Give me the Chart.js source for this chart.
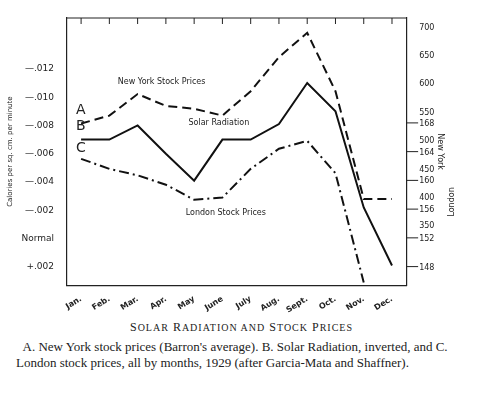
<!DOCTYPE html>
<html><head><meta charset="utf-8">
<script src="https://cdn.jsdelivr.net/npm/chart.js@4"></script>
<style>
body{margin:0;background:#fff;width:483px;height:402px;overflow:hidden}
#wrap{position:relative;width:483px;height:318px}
.cap{font-family:"Liberation Serif",serif;color:#222}
#t{text-align:center;font-size:12px;letter-spacing:1px;margin-top:2px}
#d{font-size:13px;margin:4px 14px 0 16px;line-height:16px}
</style></head><body>
<div id="wrap"><canvas id="c" width="483" height="318"></canvas></div>
<div id="t" class="cap">S<span style="font-size:10px">OLAR</span> R<span style="font-size:10px">ADIATION AND</span> S<span style="font-size:10px">TOCK</span> P<span style="font-size:10px">RICES</span></div>
<div id="d" class="cap">&nbsp;&nbsp;A. New York stock prices (Barron's average). B. Solar Radiation, inverted, and C. London stock prices, all by months, 1929 (after Garcia-Mata and Shaffner).</div>
<script>
// monthly values, 1929
const months = ['Jan.','Feb.','Mar.','Apr.','May','June','July','Aug.','Sept.','Oct.','Nov.','Dec.'];
const newYork = [531, 545, 583, 562, 557, 545, 588, 648, 691, 588, 398, 398];
const solar = [-0.0070, -0.0070, -0.0080, -0.0060, -0.0041, -0.0070, -0.0070, -0.0081, -0.0110, -0.0090, -0.0022, 0.0019];
const london = [163, 161.6, 160.7, 159.4, 157.3, 157.6, 161.6, 164.4, 165.5, 161, 145.8, null];
const calTicks = [-0.012, -0.010, -0.008, -0.006, -0.004, -0.002, 0, 0.002];
const londonTicks = [168, 164, 160, 156, 152, 148];

function calLabel(v) {
    if (v === 0) return 'Normal';
    const s = Math.abs(v).toFixed(3).replace('0.', '.');
    return (v < 0 ? '\u2014' : '+') + s;
}

// labels on the plot, top border and London tick labels
const notes = {
    id: 'notes',
    afterDraw(chart) {
        const c = chart.ctx, x = chart.scales.x, y = chart.scales.y;
        const ny = chart.scales.ny, lo = chart.scales.lo, a = chart.chartArea;
        c.save();
        c.strokeStyle = '#222';
        c.lineWidth = 1.2;
        c.beginPath(); c.moveTo(a.left, a.top); c.lineTo(a.right, a.top); c.stroke();
        c.lineWidth = 1;
        months.forEach((m, i) => {
            const px = x.getPixelForValue(i);
            c.beginPath(); c.moveTo(px, a.top); c.lineTo(px, a.top + 6); c.stroke();
        });
        c.fillStyle = '#222';
        c.font = '8px "DejaVu Sans"';
        c.fillText('New York Stock Prices', x.getPixelForValue(1.3), ny.getPixelForValue(600));
        c.fillText('Solar Radiation', x.getPixelForValue(3.8), y.getPixelForValue(-0.0080));
        c.fillText('London Stock Prices', x.getPixelForValue(3.7), lo.getPixelForValue(155.2));
        c.font = '14px "DejaVu Sans"';
        c.fillText('A', 76, ny.getPixelForValue(548));
        c.fillText('B', 76, y.getPixelForValue(-0.0077));
        c.fillText('C', 76, y.getPixelForValue(-0.0061));
        // London ticks share the right column
        c.font = '8px "DejaVu Sans"';
        londonTicks.forEach(v => {
            const py = lo.getPixelForValue(v);
            c.beginPath(); c.moveTo(a.right, py); c.lineTo(a.right + 12, py); c.stroke();
            c.fillText(v, a.right + 13, py + 3);
        });
        c.translate(a.right + 48, lo.getPixelForValue(157));
        c.rotate(-Math.PI / 2);
        c.textAlign = 'center';
        c.fillText('London', 0, 0);
        c.restore();
    }
};

new Chart(document.getElementById('c'), {
    type: 'line',
    data: {
        labels: months,
        datasets: [
            { data: newYork, yAxisID: 'ny', borderColor: '#111', borderWidth: 2, borderDash: [9, 5], pointRadius: 0, tension: 0 },
            { data: solar, yAxisID: 'y', borderColor: '#111', borderWidth: 2, pointRadius: 0, tension: 0 },
            { data: london, yAxisID: 'lo', borderColor: '#111', borderWidth: 2, borderDash: [10, 4, 2, 4], pointRadius: 0, tension: 0 }
        ]
    },
    options: {
        responsive: false,
        animation: false,
        layout: { padding: { top: 18, right: 38, left: 2 } },
        plugins: { legend: { display: false }, tooltip: { enabled: false } },
        scales: {
            x: {
                offset: true,
                grid: { display: false, drawTicks: true, tickLength: 6, color: '#222' },
                border: { color: '#222', width: 1.2 },
                ticks: { color: '#222', font: { family: 'DejaVu Sans', size: 8, weight: 'bold' } }
            },
            y: {
                reverse: true, min: -0.0156, max: 0.0033,
                afterBuildTicks: s => { s.ticks = calTicks.map(v => ({ value: v })); },
                grid: { display: false, drawTicks: true, tickLength: 10, color: '#222' },
                border: { color: '#222', width: 1.2 },
                ticks: { color: '#222', callback: calLabel, font: { family: 'DejaVu Sans', size: 9 } },
                title: { display: true, text: 'Calories per sq. cm. per minute', color: '#222', font: { family: 'DejaVu Sans', size: 7 } }
            },
            ny: {
                position: 'right', min: 246, max: 717,
                afterBuildTicks: s => { s.ticks = [350, 400, 450, 500, 550, 600, 650, 700].map(v => ({ value: v })); },
                grid: { display: false, drawTicks: true, tickLength: 12, color: '#222' },
                border: { color: '#222', width: 1.2 },
                ticks: { color: '#222', padding: 1, font: { family: 'DejaVu Sans', size: 8 } },
                title: { display: true, text: 'New York', color: '#222', font: { family: 'DejaVu Sans', size: 8 }, padding: 0 }
            },
            lo: { display: false, min: 145.4, max: 182.6 }
        }
    },
    plugins: [notes]
});
</script>
</body></html>
